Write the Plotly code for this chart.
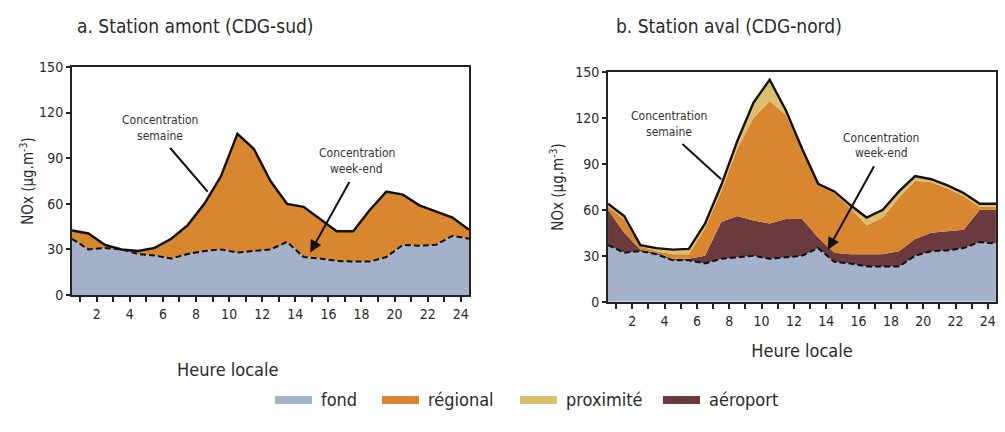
import plotly.graph_objects as go

# ---------------- data ----------------
hours = [0.5, 1.5, 2.5, 3.5, 4.5, 5.5, 6.5, 7.5, 8.5, 9.5, 10.5, 11.5, 12.5,
         13.5, 14.5, 15.5, 16.5, 17.5, 18.5, 19.5, 20.5, 21.5, 22.5, 23.5, 24.5]
tick_hours = [2, 4, 6, 8, 10, 12, 14, 16, 18, 20, 22, 24]
tick_labels = ["2", "4", "6", "8", "10", "12", "14", "16", "18", "20", "22", "24"]
y_ticks = [0, 30, 60, 90, 120, 150]

# a. Station amont (CDG-sud)
fond_a = [37, 30, 31, 30, 27, 26, 24, 27, 29, 30, 28, 29, 30, 35, 25, 24, 22.5, 22, 22, 25, 33, 32.5, 33, 39, 37]
regional_a = [5.5, 10.5, 2, 0, 2, 5, 13, 19, 31, 48, 78, 67, 45, 25, 33, 26, 19.5, 20, 34, 43, 33, 26.5, 22, 12, 6]

# b. Station aval (CDG-nord)
fond_b = [37, 32, 33, 31, 27, 27, 25, 28, 29, 30, 28, 29, 30, 35, 26, 25, 23, 23, 23, 30, 33, 33.5, 35, 39, 38]
aeroport_b = [23, 13, 1, 1, 1, 1, 5, 24, 27, 23, 23, 25, 24, 7, 6, 6, 8, 8, 10, 11, 12, 12.5, 12, 21, 22]
regional_b = [2, 9, 2, 1, 3, 3, 18, 20, 44, 67, 80, 68, 46, 35, 39, 30, 19, 24, 35, 38, 33, 28, 22, 2, 2]
proximite_b = [2, 2, 1, 2, 3, 3.5, 3, 4, 5, 10, 14, 3, 0, 0, 1, 2, 5, 5, 4, 3, 2, 2, 2, 2, 2]

legend_names = ["fond", "régional", "proximité", "aéroport"]

# ---------------- styles ----------------
C_FOND = "#a3b2ca"
C_REG = "#d8862f"
C_PROX = "#dcbf6c"
C_AERO = "#6b3a3f"
FONT = "DejaVu Sans Condensed, DejaVu Sans, sans-serif"
TXT = "#2a2a2a"
Y_TITLE = "NOx (µg.m<sup>-3</sup>)"
X_TITLE = "Heure locale"

total_a = [f + r for f, r in zip(fond_a, regional_a)]
total_b = [f + a + r + p for f, a, r, p in zip(fond_b, aeroport_b, regional_b, proximite_b)]

fig = go.Figure()

def area(x, y, color, group, xa, ya, name):
    fig.add_trace(go.Scatter(x=x, y=y, stackgroup=group, mode="lines",
                             line=dict(width=0, color=color), fillcolor=color,
                             xaxis=xa, yaxis=ya, name=name, showlegend=False,
                             hoverinfo="skip"))

# panel a
area(hours, fond_a, C_FOND, "a", "x", "y", "fond")
area(hours, regional_a, C_REG, "a", "x", "y", "régional")
# panel b
area(hours, fond_b, C_FOND, "b", "x2", "y2", "fond")
area(hours, aeroport_b, C_AERO, "b", "x2", "y2", "aéroport")
area(hours, regional_b, C_REG, "b", "x2", "y2", "régional")
area(hours, proximite_b, C_PROX, "b", "x2", "y2", "proximité")

# lines: week-end (dashed, = fond) and week total (solid)
for xa, ya, fond, tot in (("x", "y", fond_a, total_a), ("x2", "y2", fond_b, total_b)):
    fig.add_trace(go.Scatter(x=hours, y=fond, mode="lines", xaxis=xa, yaxis=ya,
                             line=dict(color="#111", width=2, dash="6px,3px"),
                             showlegend=False, hoverinfo="skip"))
    fig.add_trace(go.Scatter(x=hours, y=tot, mode="lines", xaxis=xa, yaxis=ya,
                             line=dict(color="#111", width=2.4),
                             showlegend=False, hoverinfo="skip"))

def xaxis(domain, anchor, title=None, standoff=0):
    d = dict(domain=domain, anchor=anchor, range=[0.5, 24.5], tickmode="array",
             tickvals=tick_hours, ticktext=tick_labels, ticks="outside",
             ticklen=5, tickwidth=1.5, tickcolor="#222",
             minor=dict(ticks="outside", tick0=1, dtick=1, ticklen=5,
                        tickwidth=1.5, tickcolor="#222", showgrid=False),
             showline=True, linecolor="#222", linewidth=2, mirror=True,
             showgrid=False, zeroline=False, automargin=False,
             tickfont=dict(family=FONT, size=14, color=TXT))
    if title:
        d["title"] = dict(text=title, standoff=standoff,
                          font=dict(family=FONT, size=18, color=TXT))
    return d

def yaxis(domain, anchor, standoff):
    return dict(domain=domain, range=[0, 150], tickvals=y_ticks, ticks="outside",
                ticklen=4, tickwidth=1.5, tickcolor="#222", showline=True,
                linecolor="#222", linewidth=2, mirror=True, showgrid=False,
                zeroline=False, anchor=anchor, automargin=False,
                tickfont=dict(family=FONT, size=14, color=TXT),
                title=dict(text=Y_TITLE, standoff=standoff,
                           font=dict(family=FONT, size=15, color=TXT)))

fig.update_layout(
    width=1005, height=432,
    margin=dict(l=0, r=0, t=0, b=0, pad=0),
    paper_bgcolor="white", plot_bgcolor="white",
    showlegend=False,
    xaxis=xaxis([0.0716, 0.4667], "y"),
    yaxis=yaxis([0.317, 0.845], "x", 2),
    xaxis2=xaxis([0.605, 0.991], "y2", X_TITLE, 17),
    yaxis2=yaxis([0.3016, 0.8333], "x2", 8),
)

def ptext(text, xp, yp, size, xanchor="center", angle=0):
    return dict(text=text, x=xp / 1005, y=1 - yp / 432, xref="paper", yref="paper",
                xanchor=xanchor, yanchor="middle", textangle=angle, showarrow=False,
                font=dict(family=FONT, size=size, color=TXT))

ann = []
# titles
ann.append(ptext("a. Station amont (CDG-sud)", 75, 26, 19, "left"))
ann.append(ptext("b. Station aval (CDG-nord)", 614, 26, 19, "left"))
# left x title (set off to the left, below the panel)
ann.append(ptext(X_TITLE, 228, 369, 18))

# callouts: two text lines, the lower one carrying the pointer line
def callout(xa, ya, line1, line2, tx, ty, x1, y1, head):
    cfont = dict(family=FONT, size=12, color="#333")
    ann.append(dict(text=line1, x=tx, y=ty + 5.2, xref=xa, yref=ya,
                    showarrow=False, font=cfont))
    ann.append(dict(text=line2, x=x1, y=y1, ax=tx, ay=ty - 5.2, xref=xa, yref=ya,
                    axref=xa, ayref=ya, showarrow=True,
                    arrowhead=2 if head else 0, arrowsize=1.2, arrowwidth=2,
                    arrowcolor="#111", startstandoff=5, font=cfont))

callout("x", "y", "Concentration", "semaine", 5.8, 110, 8.7, 68, False)
callout("x", "y", "Concentration", "week-end", 17.7, 88, 14.9, 28, True)
callout("x2", "y2", "Concentration", "semaine", 4.3, 116, 7.5, 80, False)
callout("x2", "y2", "Concentration", "week-end", 17.4, 102, 14.1, 34, True)

# legend (swatch + label)
shapes = []
legend_colors = [C_FOND, C_REG, C_PROX, C_AERO]
sw_x = [275, 382, 520, 663]
for name, col, x0 in zip(legend_names, legend_colors, sw_x):
    shapes.append(dict(type="rect", xref="paper", yref="paper",
                       x0=x0 / 1005, x1=(x0 + 37) / 1005,
                       y0=1 - 404 / 432, y1=1 - 396 / 432,
                       fillcolor=col, line=dict(width=0)))
    ann.append(ptext(name, x0 + 44, 399, 18, "left"))

fig.update_layout(annotations=ann, shapes=shapes)
fig.write_html("out.html", config={"displayModeBar": False},
               post_script="document.body.style.margin='0';document.body.style.overflow='hidden';")
